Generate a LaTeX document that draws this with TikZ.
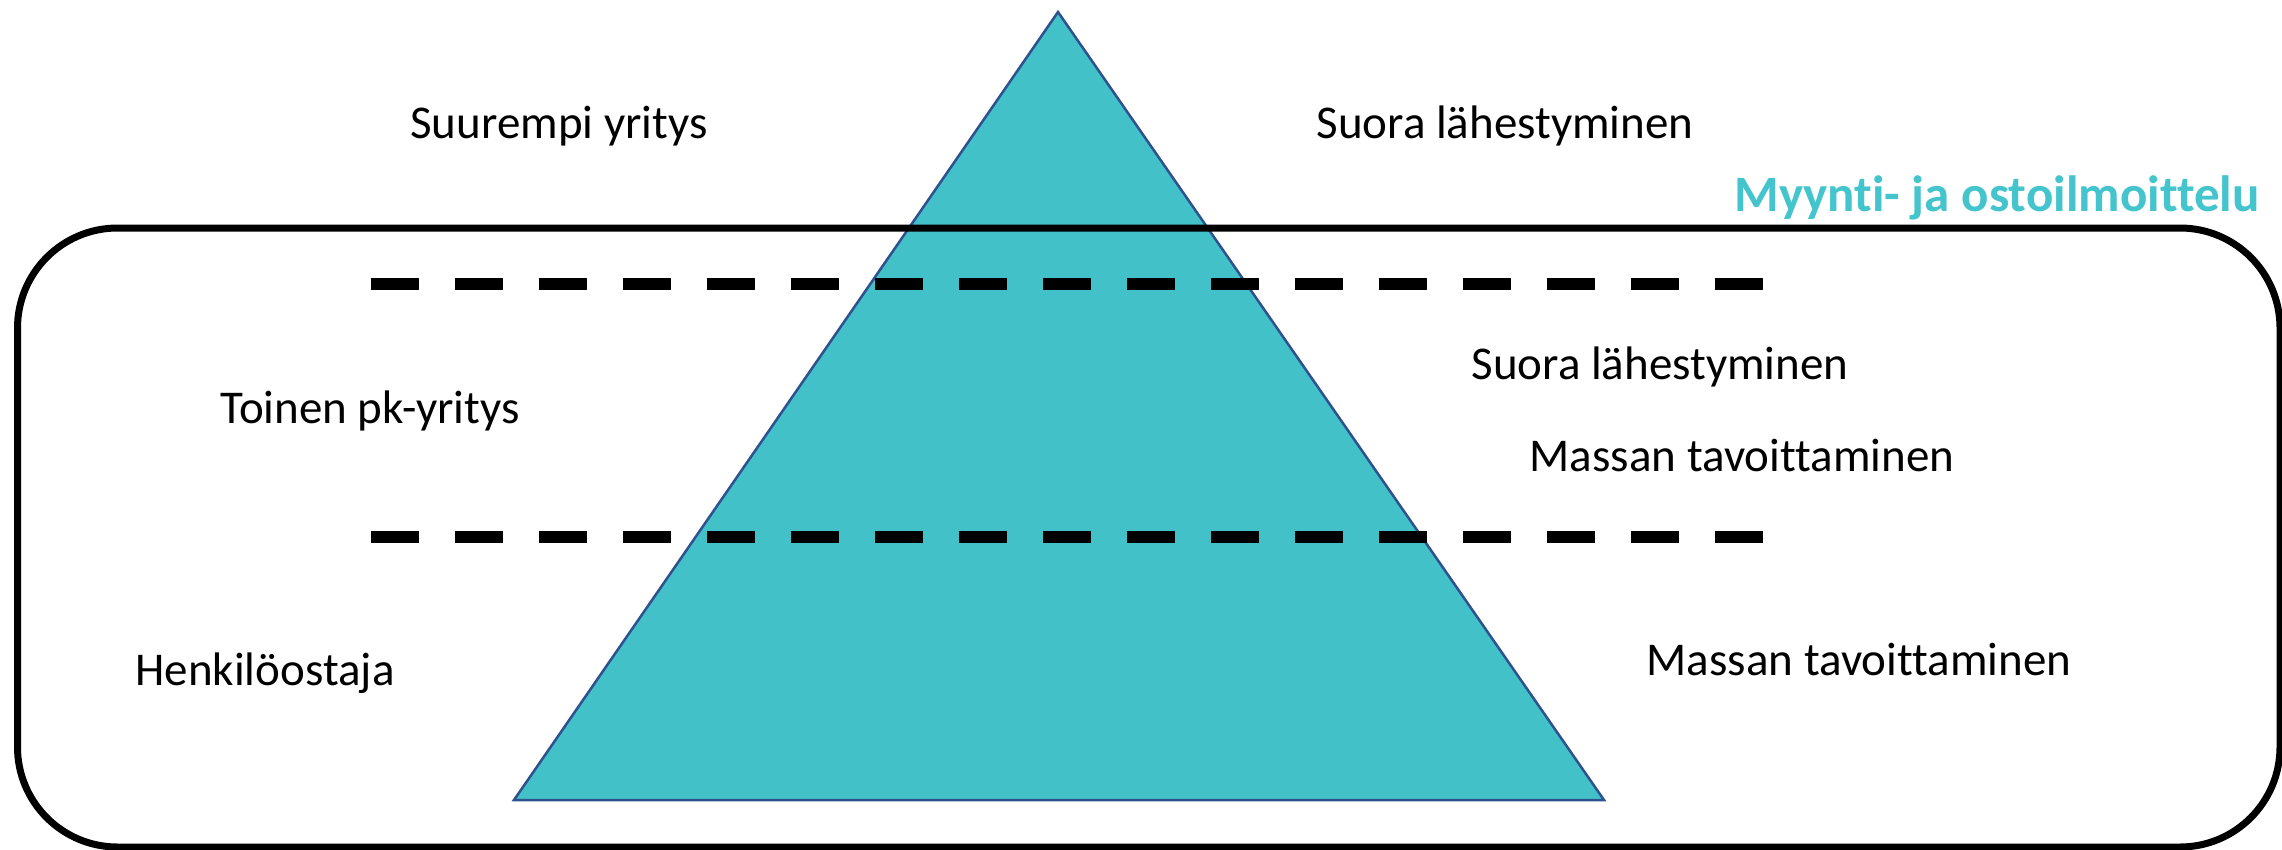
\documentclass[tikz,border=0pt]{standalone}
\usepackage{fontspec}
\setmainfont[RawFeature={-liga;-clig;-calt;-dlig}]{Carlito}
\definecolor{tealfill}{HTML}{43C1C9}
\definecolor{tealtext}{HTML}{44C4CC}
\definecolor{edgeblue}{HTML}{2F528F}
\begin{document}
\begin{tikzpicture}[x=1pt,y=-1pt,
  lbl/.style={anchor=base,inner sep=0pt,font=\fontsize{47}{56}\selectfont},
  ttl/.style={anchor=base,inner sep=0pt,font=\fontsize{51}{60}\selectfont\bfseries,text=tealtext},
  dashline/.style={line width=12pt,dash pattern=on 48pt off 36pt,line cap=butt},
  framebox/.style={line width=7pt,rounded corners=100pt},
  pyramid/.style={fill=tealfill,draw=edgeblue,line width=2.5pt,line join=miter}]
\useasboundingbox (0,0) rectangle (2282,849);
\coordinate (apex) at (1058,12);
\coordinate (bl) at (514,800);
\coordinate (br) at (1604,800);
\draw[pyramid] (apex) -- (bl) -- (br) -- cycle;
\begin{scope}
\clip (0,0) rectangle (2282,849);
\draw[framebox] (17.5,228) rectangle (2280,847);
\end{scope}
\coordinate (d1a) at (371,284);
\coordinate (d1b) at (1764,284);
\coordinate (d2a) at (371,537);
\coordinate (d2b) at (1764,537);
\draw[dashline] (d1a) -- (d1b);
\draw[dashline] (d2a) -- (d2b);
\node[ttl] (title) at (1997,211) {Myynti- ja ostoilmoittelu};
\node[lbl] (t1) at (559,138) {Suurempi yritys};
\node[lbl] (t2) at (1505,138) {Suora lähestyminen};
\node[lbl] (t3) at (1660,379) {Suora lähestyminen};
\node[lbl] (t4) at (370,423) {Toinen pk-yritys};
\node[lbl] (t5) at (1742,471) {Massan tavoittaminen};
\node[lbl] (t6) at (265,685) {Henkilöostaja};
\node[lbl] (t7) at (1859,675) {Massan tavoittaminen};
\end{tikzpicture}
\end{document}
